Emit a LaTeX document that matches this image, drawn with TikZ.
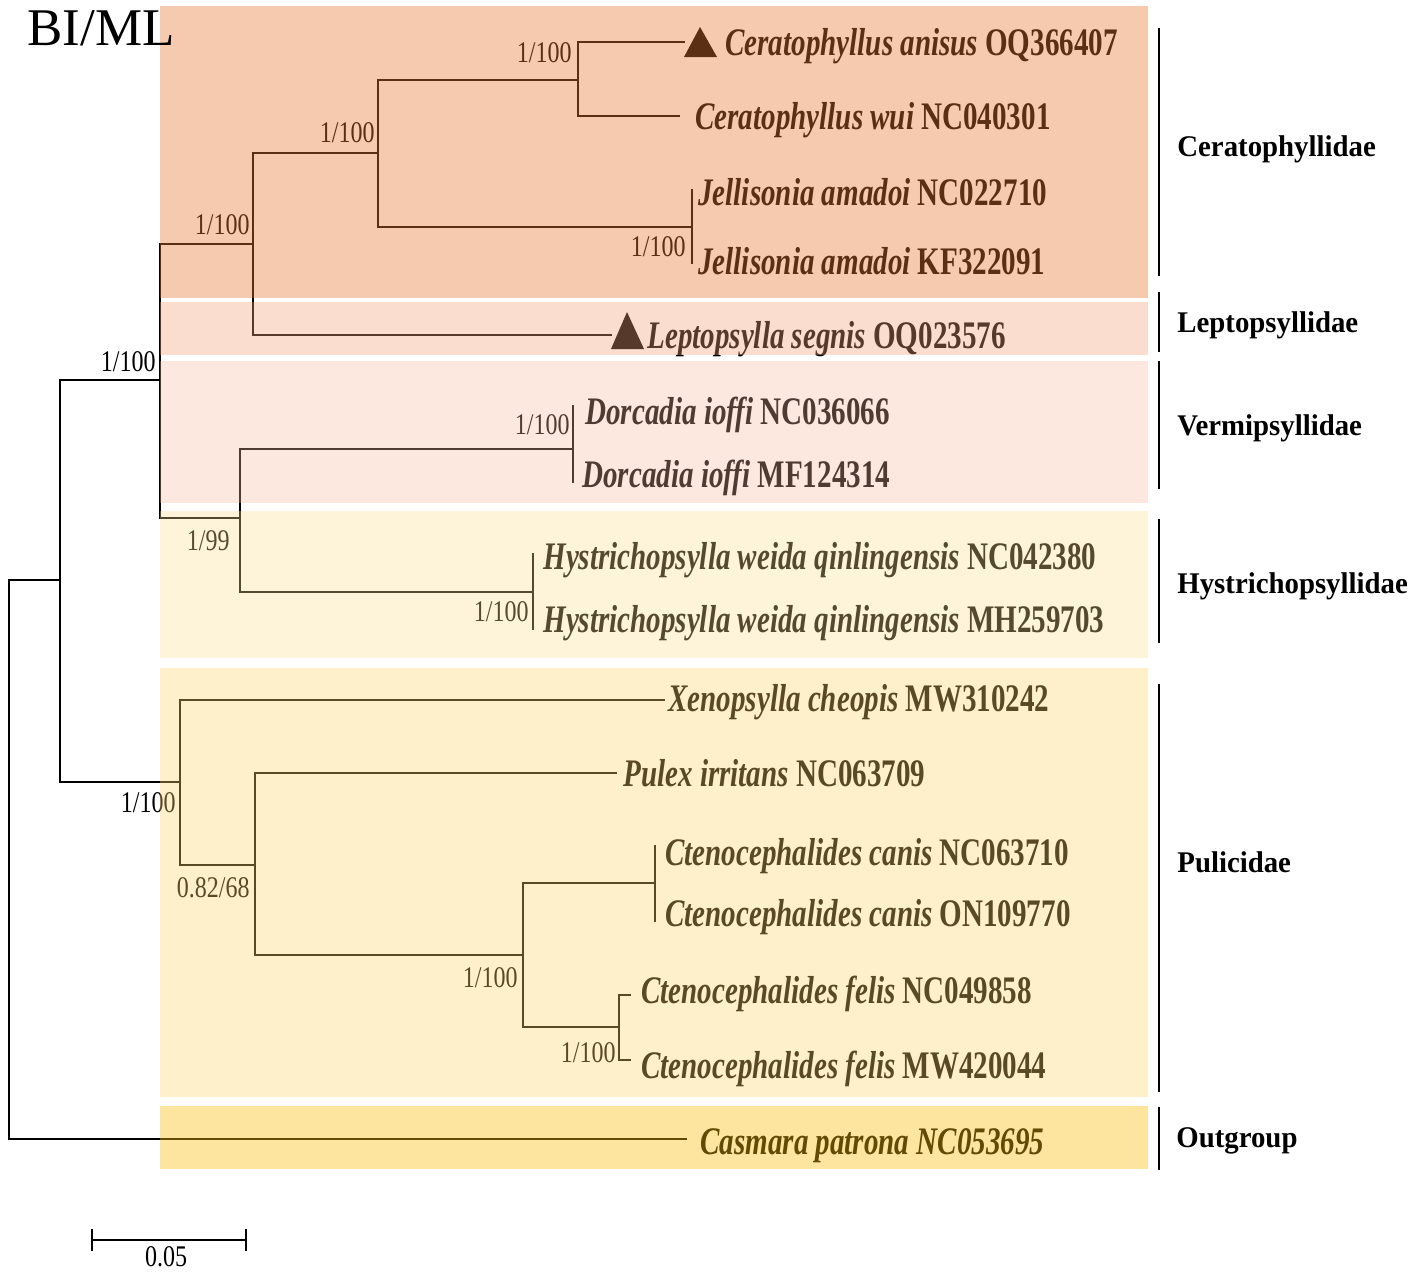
\documentclass[tikz,border=0pt]{standalone}
\usepackage{fontspec}
\setmainfont{Liberation Serif}
\newfontfamily\spfont[FakeStretch=0.745]{Liberation Serif}
\newfontfamily\supfont[FakeStretch=0.8]{Liberation Serif}
\newfontfamily\cladefont[FakeStretch=0.96]{Liberation Serif}
\newcommand\leafname[2]{{\bfseries\itshape #1} {\bfseries #2}}
\definecolor{ovA}{RGB}{232,120,50}
\definecolor{ovB}{RGB}{241,160,120}
\definecolor{ovC}{RGB}{245,185,155}
\definecolor{ovD}{RGB}{252,222,145}
\definecolor{ovE}{RGB}{252,212,105}
\definecolor{ovF}{RGB}{250,189,10}
\tikzset{
  leaf/.style={anchor=base west, inner sep=0pt, font=\spfont\fontsize{19.5}{20}\selectfont},
  supp/.style={anchor=east, inner sep=0pt, font=\supfont\fontsize{15}{16}\selectfont},
  clade/.style={anchor=base west, inner sep=0pt, font=\cladefont\bfseries\fontsize{15}{16}\selectfont},
  br/.style={line width=1.3pt},
  rootbr/.style={line width=1.4pt},
  cherry/.style={line width=0.7pt},
  bar/.style={line width=1.1pt},
  tri/.style={fill=black}
}
\begin{document}
\begin{tikzpicture}[x=0.5pt,y=-0.5pt]
\useasboundingbox (0,0) rectangle (1418,1276);
% internal nodes
\coordinate (R) at (9,860);
\coordinate (A) at (60,580);
\coordinate (B) at (160,380);
\coordinate (C) at (253,244);
\coordinate (D) at (378,153);
\coordinate (E) at (578,80);
\coordinate (F) at (692,227);
\coordinate (G) at (240,518);
\coordinate (H) at (573,449);
\coordinate (I) at (533,592);
\coordinate (P) at (180,782);
\coordinate (Q) at (255,865);
\coordinate (S) at (523,955);
\coordinate (T) at (655,883);
\coordinate (U) at (619,1027);
% tips
\coordinate (t1) at (685,42);
\coordinate (t2) at (680,116);
\coordinate (t3) at (692,189);
\coordinate (t4) at (692,264);
\coordinate (t5) at (612,335);
\coordinate (t6) at (573,405);
\coordinate (t7) at (573,483);
\coordinate (t8) at (533,553);
\coordinate (t9) at (533,630);
\coordinate (t10) at (665,700);
\coordinate (t11) at (617,773);
\coordinate (t12) at (655,845);
\coordinate (t13) at (655,922);
\coordinate (t14) at (631,995);
\coordinate (t15) at (631,1060);
\coordinate (t16) at (687,1139);
% branches
\draw[rootbr] (R) |- (A);
\draw[rootbr] (R) |- (t16);
\draw[br] (A) |- (B);
\draw[br] (A) |- (P);
\draw[br] (B) |- (C);
\draw[br] (B) |- (G);
\draw[br] (C) |- (D);
\draw[br] (C) |- (t5);
\draw[br] (D) |- (E);
\draw[br] (D) |- (F);
\draw[br] (E) |- (t1);
\draw[br] (E) |- (t2);
\draw[cherry] (F) |- (t3);
\draw[cherry] (F) |- (t4);
\draw[br] (G) |- (H);
\draw[br] (G) |- (I);
\draw[cherry] (H) |- (t6);
\draw[cherry] (H) |- (t7);
\draw[cherry] (I) |- (t8);
\draw[cherry] (I) |- (t9);
\draw[br] (P) |- (t10);
\draw[br] (P) |- (Q);
\draw[br] (Q) |- (t11);
\draw[br] (Q) |- (S);
\draw[br] (S) |- (T);
\draw[br] (S) |- (U);
\draw[cherry] (T) |- (t12);
\draw[cherry] (T) |- (t13);
\draw[cherry] (U) |- (t14);
\draw[cherry] (U) |- (t15);
% markers
\fill[tri] (684,57) -- (700,27) -- (717,57) -- cycle;
\fill[tri] (611,349) -- (627,312) -- (644,349) -- cycle;
% support values
\node[supp] (sE) at (572,53) {1/100};
\node[supp] (sD) at (375,133) {1/100};
\node[supp] (sC) at (250,225) {1/100};
\node[supp] (sB) at (156,362) {1/100};
\node[supp] (sF) at (686,247) {1/100};
\node[supp] (sH) at (570,425) {1/100};
\node[supp] (sG) at (230,541) {1/99};
\node[supp] (sI) at (529,612) {1/100};
\node[supp] (sP) at (176,803) {1/100};
\node[supp] (sQ) at (250,888) {0.82/68};
\node[supp] (sS) at (518,978) {1/100};
\node[supp] (sU) at (616,1053) {1/100};
% leaves
\node[leaf] (L1) at (725,55) {\leafname{Ceratophyllus anisus}{OQ366407}};
\node[leaf] (L2) at (695,129) {\leafname{Ceratophyllus wui}{NC040301}};
\node[leaf] (L3) at (698,205) {\leafname{Jellisonia amadoi}{NC022710}};
\node[leaf] (L4) at (698,274) {\leafname{Jellisonia amadoi}{KF322091}};
\node[leaf] (L5) at (647,348) {\leafname{Leptopsylla segnis}{OQ023576}};
\node[leaf] (L6) at (585,424) {\leafname{Dorcadia ioffi}{NC036066}};
\node[leaf] (L7) at (582,487) {\leafname{Dorcadia ioffi}{MF124314}};
\node[leaf] (L8) at (543,569) {\leafname{Hystrichopsylla weida qinlingensis}{NC042380}};
\node[leaf] (L9) at (543,632) {\leafname{Hystrichopsylla weida qinlingensis}{MH259703}};
\node[leaf] (L10) at (668,711) {\leafname{Xenopsylla cheopis}{MW310242}};
\node[leaf] (L11) at (623,786) {\leafname{Pulex irritans}{NC063709}};
\node[leaf] (L12) at (665,865) {\leafname{Ctenocephalides canis}{NC063710}};
\node[leaf] (L13) at (665,926) {\leafname{Ctenocephalides canis}{ON109770}};
\node[leaf] (L14) at (641,1003) {\leafname{Ctenocephalides felis}{NC049858}};
\node[leaf] (L15) at (641,1078) {\leafname{Ctenocephalides felis}{MW420044}};
\node[leaf] (L16) at (700,1154) {\bfseries\itshape Casmara patrona NC053695};
% coloured bands (tinting overlay)
\fill[ovA, opacity=.393] (160,6) rectangle (1148,298);
\fill[ovB, opacity=.357] (160,302) rectangle (1148,355);
\fill[ovC, opacity=.322] (160,361) rectangle (1148,503);
\fill[ovD, opacity=.337] (160,511) rectangle (1148,658);
\fill[ovE, opacity=.353] (160,668) rectangle (1148,1097);
\fill[ovF, opacity=.392] (160,1106) rectangle (1148,1169);
% clade bars and labels
\coordinate (c1a) at (1159,28);   \coordinate (c1b) at (1159,276);
\coordinate (c2a) at (1159,292);  \coordinate (c2b) at (1159,352);
\coordinate (c3a) at (1159,361);  \coordinate (c3b) at (1159,489);
\coordinate (c4a) at (1159,519);  \coordinate (c4b) at (1159,643);
\coordinate (c5a) at (1159,684);  \coordinate (c5b) at (1159,1092);
\coordinate (c6a) at (1159,1107); \coordinate (c6b) at (1159,1170);
\draw[bar] (c1a) -- (c1b);
\draw[bar] (c2a) -- (c2b);
\draw[bar] (c3a) -- (c3b);
\draw[bar] (c4a) -- (c4b);
\draw[bar] (c5a) -- (c5b);
\draw[bar] (c6a) -- (c6b);
\node[clade] (k1) at (1177,156) {Ceratophyllidae};
\node[clade] (k2) at (1177,332) {Leptopsyllidae};
\node[clade] (k3) at (1177,435) {Vermipsyllidae};
\node[clade] (k4) at (1177,593) {Hystrichopsyllidae};
\node[clade] (k5) at (1177,872) {Pulicidae};
\node[clade] (k6) at (1176,1147) {Outgroup};
% title
\node[anchor=base west, inner sep=0pt, font=\fontsize{26.5}{27}\selectfont] (title) at (27,45) {BI/ML};
% scale bar
\coordinate (sL) at (92,1240);
\coordinate (sR) at (246,1240);
\draw[bar, line width=1.3pt] (sL) -- (sR);
\draw[line width=0.7pt] (92,1229) -- (92,1251);
\draw[line width=0.7pt] (246,1229) -- (246,1251);
\node[supp, anchor=center] (sc) at (166,1257) {0.05};
\end{tikzpicture}
\end{document}
